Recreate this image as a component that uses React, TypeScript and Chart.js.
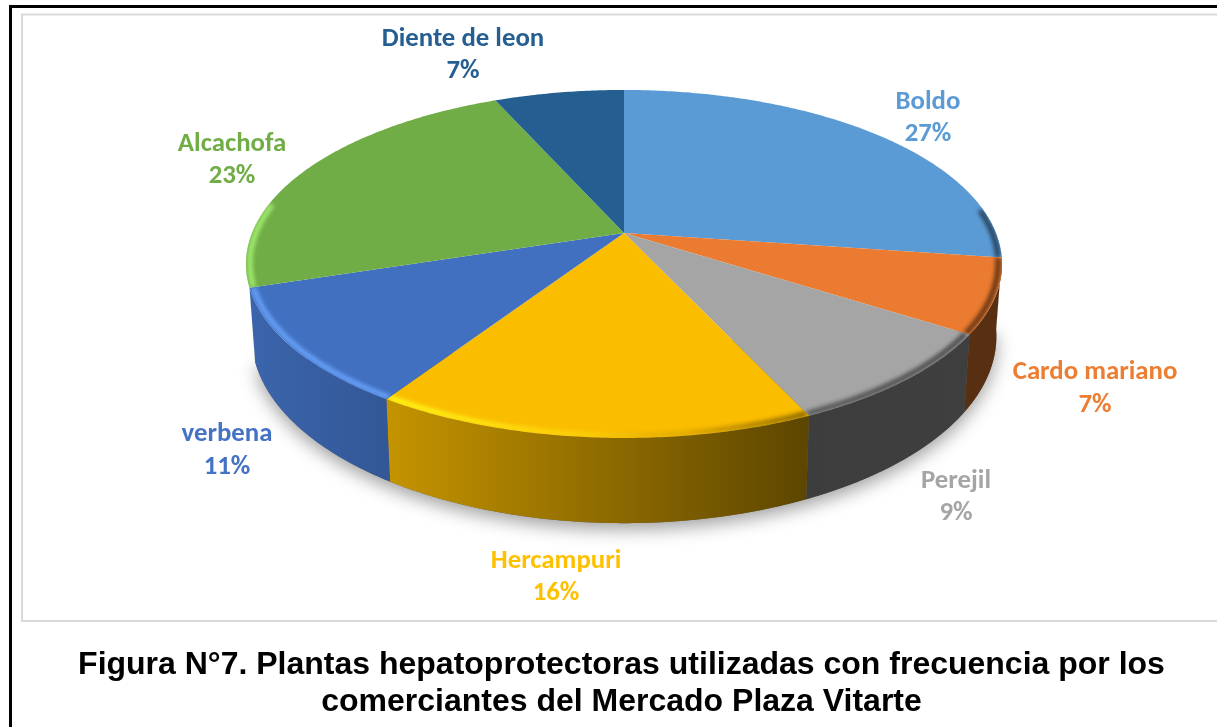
import React, { useEffect, useRef } from "react";
import { Chart, registerables } from "chart.js";

Chart.register(...registerables);

const categories = ["Boldo", "Cardo mariano", "Perejil", "Hercampuri", "verbena", "Alcachofa", "Diente de leon"];
const sliceValues = [27.3, 6.9, 9.0, 16.0, 10.9, 23.4, 6.6];
const percentLabels = ["27%", "7%", "9%", "16%", "11%", "23%", "7%"];
const sliceColors = ["#5B9BD5", "#EA7B30", "#A5A5A5", "#FBBD00", "#4170C0", "#70AD47", "#255E91"];
const textColors = ["#5B9BD5", "#ED7D31", "#A5A5A5", "#FFC000", "#4472C4", "#70AD47", "#255E91"];
const titleLines = ["Figura N°7. Plantas hepatoprotectoras utilizadas con frecuencia por los", "comerciantes del Mercado Plaza Vitarte"];

// label anchor per slice: x of centre, y of first line, y of second line
const labelAnchors = [
  [928, 102, 134],
  [1095, 372, 405],
  [956, 481, 513],
  [556, 561, 593],
  [227, 434, 467],
  [232, 144, 176],
  [463, 39, 71],
];

const CX = 624, CY = 233, RX = 372, RY = 168.5, K = 0.178, DEPTH = 70, SHRINK = 0.985;

function proj(a: number, r = 1, lower = false): [number, number] {
  const u = r * Math.cos(a), v = r * Math.sin(a);
  const w = 1 - K * v;
  const s = lower ? SHRINK : 1;
  return [CX + (s * RX * u) / w, CY + (RY * v + (lower ? DEPTH : 0)) / w];
}

function hexRgb(h: string) {
  return [parseInt(h.slice(1, 3), 16), parseInt(h.slice(3, 5), 16), parseInt(h.slice(5, 7), 16)];
}

function tracePolyArc(ctx: CanvasRenderingContext2D, a0: number, a1: number, r: number, lower: boolean, first: boolean) {
  const n = Math.max(2, Math.ceil(Math.abs(a1 - a0) / 0.01));
  for (let i = 0; i <= n; i++) {
    const [x, y] = proj(a0 + ((a1 - a0) * i) / n, r, lower);
    if (i === 0 && first) ctx.moveTo(x, y);
    else ctx.lineTo(x, y);
  }
}

const piePlugin = {
  id: "perspectivePie",
  beforeDraw(chart: any) {
    const ctx = chart.ctx as CanvasRenderingContext2D;
    ctx.save();
    ctx.fillStyle = "#ffffff";
    ctx.fillRect(0, 0, chart.width, chart.height);
    ctx.strokeStyle = "#d9d9d9";
    ctx.lineWidth = 2;
    ctx.strokeRect(22, 14.5, 1300, 606.5);
    ctx.strokeStyle = "#000000";
    ctx.lineWidth = 3;
    ctx.strokeRect(10.5, 6.5, 1400, 900);
    ctx.restore();
  },
  beforeDatasetDraw(chart: any) {
    const ctx = chart.ctx as CanvasRenderingContext2D;
    const arcs = chart.getDatasetMeta(0).data;
    const WL = Math.PI * (8 / 180), WH = Math.PI * (162.2 / 180);
    ctx.save();

    // soft shadow under the disc
    ctx.save();
    ctx.shadowColor = "rgba(0,0,0,0.38)";
    ctx.shadowBlur = 18;
    ctx.shadowOffsetY = 6;
    ctx.fillStyle = "#666";
    ctx.beginPath();
    tracePolyArc(ctx, WL, WH, 1, true, true);
    ctx.closePath();
    ctx.fill();
    ctx.restore();

    // side wall
    arcs.forEach((el: any, i: number) => {
      const a0 = Math.max(el.startAngle, WL), a1 = Math.min(el.endAngle, WH);
      if (a1 <= a0) return;
      const [r, g, b] = hexRgb(sliceColors[i]);
      const grad = ctx.createLinearGradient(246, 0, 1002, 0);
      const stops: [number, number][] = [[0, 0.9], [0.19, 0.78], [0.74, 0.37], [1, 0.38]];
      stops.forEach(([p, f]) => grad.addColorStop(p, `rgb(${r * f},${g * f},${b * f})`));
      ctx.fillStyle = grad;
      ctx.beginPath();
      tracePolyArc(ctx, a0, a1, 1, false, true);
      tracePolyArc(ctx, a1, a0, 1, true, false);
      ctx.closePath();
      ctx.fill();
    });

    // top face and bevel
    arcs.forEach((el: any, i: number) => {
      const path = () => {
        ctx.beginPath();
        ctx.moveTo(CX, CY);
        tracePolyArc(ctx, el.startAngle, el.endAngle, 1, false, false);
        ctx.closePath();
      };
      path();
      ctx.fillStyle = sliceColors[i];
      ctx.fill();

      const lo = (-8 * Math.PI) / 180, hi = (190 * Math.PI) / 180;
      const ranges: [number, number][] = [];
      [0, Math.PI * 2, -Math.PI * 2].forEach((shift) => {
        const s = Math.max(el.startAngle + shift, lo), e = Math.min(el.endAngle + shift, hi);
        if (e > s) ranges.push([s, e]);
      });
      const [r, g, b] = hexRgb(sliceColors[i]);
      const lt = [r, g, b].map((c) => Math.min(255, Math.round(c * 1.25 + 28))).join(",");
      const dk = [r, g, b].map((c) => Math.round(c * 0.35)).join(",");
      ctx.save();
      path();
      ctx.clip();
      const bevel = ctx.createLinearGradient(246, 0, 1002, 0);
      bevel.addColorStop(0, `rgba(${lt},0.95)`);
      bevel.addColorStop(0.2, `rgba(${lt},0.95)`);
      bevel.addColorStop(0.46, `rgba(${lt},0.25)`);
      bevel.addColorStop(0.58, `rgba(${dk},0.15)`);
      bevel.addColorStop(0.75, `rgba(${dk},0.8)`);
      bevel.addColorStop(1, `rgba(${dk},0.95)`);
      ctx.strokeStyle = bevel;
      ctx.lineWidth = 5;
      ctx.filter = "blur(2px)";
      ranges.forEach(([s, e]) => {
        ctx.beginPath();
        tracePolyArc(ctx, s, e, 0.99, false, true);
        ctx.stroke();
      });
      ctx.restore();
    });

    // data labels
    ctx.font = "bold 26.8px Carlito, Lato, sans-serif";
    ctx.textAlign = "center";
    ctx.textBaseline = "middle";
    categories.forEach((name, i) => {
      const [x, y1, y2] = labelAnchors[i];
      ctx.fillStyle = textColors[i];
      ctx.fillText(name, x, y1);
      ctx.fillText(percentLabels[i], x, y2);
    });
    ctx.restore();
    return false;
  },
};

export default function App() {
  const ref = useRef<HTMLCanvasElement>(null);
  useEffect(() => {
    document.body.style.margin = "0";
    const chart = new Chart(ref.current!, {
      type: "pie",
      data: {
        labels: categories,
        datasets: [{ data: sliceValues, backgroundColor: sliceColors, borderWidth: 0 }],
      },
      options: {
        animation: false,
        responsive: false,
        devicePixelRatio: 1,
        layout: { padding: 0 },
        plugins: {
          legend: { display: false },
          tooltip: { enabled: false },
          title: {
            display: true,
            position: "bottom",
            text: titleLines,
            color: "#000000",
            font: { family: "'Liberation Sans', Arial, sans-serif", size: 32, weight: "bold", lineHeight: 1.16 },
            padding: { top: 0, bottom: 6 },
          },
        },
      },
      plugins: [piePlugin],
    } as any);
    return () => chart.destroy();
  }, []);
  return (
    <div style={{ position: "fixed", left: 0, top: 0, width: 1217, height: 727, overflow: "hidden", background: "#fff" }}>
      <canvas ref={ref} width={1243} height={727} style={{ display: "block" }} />
    </div>
  );
}
